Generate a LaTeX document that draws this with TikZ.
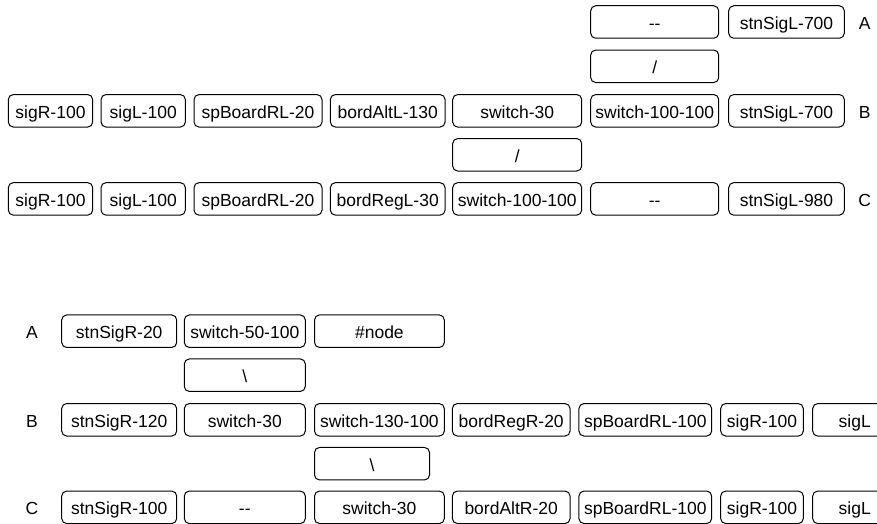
\documentclass[tikz,border=0pt]{standalone}
\usepackage{fontspec}
\setmainfont{Liberation Sans}
\begin{document}
\begin{tikzpicture}[x=1pt,y=-1pt,
  box/.style={draw=black, line width=1pt, rounded corners=5pt, minimum height=32.5pt,
    inner sep=0pt, text height=14.6pt, text depth=0pt, font=\fontsize{17.5}{20}\selectfont},
  lbl/.style={inner sep=0pt, text height=14.6pt, text depth=0pt, font=\fontsize{17.5}{20}\selectfont}]
\useasboundingbox (0,0) rectangle (877,524);
\clip (0,0) rectangle (877,524);
% ---------- top section ----------
% row A
\node[box, minimum width=128pt] (tA6) at (654.7,22) {-{}-};
\node[box, minimum width=115.6pt] (tA7) at (786.5,22) {stnSigL-700};
\node[lbl] (tAl) at (864.7,22) {A};
% slash row 1
\node[box, minimum width=128pt] (tS1) at (654.7,66.3) {/};
% row B
\node[box, minimum width=84.4pt] (tB1) at (50.5,110.8) {sigR-100};
\node[box, minimum width=84.3pt] (tB2) at (143.2,110.8) {sigL-100};
\node[box, minimum width=128pt] (tB3) at (258,110.8) {spBoardRL-20};
\node[box, minimum width=114.7pt] (tB4) at (387.7,110.8) {bordAltL-130};
\node[box, minimum width=129pt] (tB5) at (517.2,110.8) {switch-30};
\node[box, minimum width=128pt] (tB6) at (654.7,110.8) {switch-100-100};
\node[box, minimum width=115.6pt] (tB7) at (786.5,110.8) {stnSigL-700};
\node[lbl] (tBl) at (864.7,110.8) {B};
% slash row 2
\node[box, minimum width=129pt] (tS2) at (517.2,154.8) {/};
% row C
\node[box, minimum width=84.4pt] (tC1) at (50.5,198.9) {sigR-100};
\node[box, minimum width=84.3pt] (tC2) at (143.2,198.9) {sigL-100};
\node[box, minimum width=128pt] (tC3) at (258,198.9) {spBoardRL-20};
\node[box, minimum width=114.7pt] (tC4) at (387.7,198.9) {bordRegL-30};
\node[box, minimum width=129pt] (tC5) at (517.2,198.9) {switch-100-100};
\node[box, minimum width=128pt] (tC6) at (654.7,198.9) {-{}-};
\node[box, minimum width=115.6pt] (tC7) at (786.5,198.9) {stnSigL-980};
\node[lbl] (tCl) at (864.7,198.9) {C};
% ---------- bottom section ----------
% row A
\node[lbl] (bAl) at (32,331.2) {A};
\node[box, minimum width=115pt] (bA1) at (119.2,331.2) {stnSigR-20};
\node[box, minimum width=121pt] (bA2) at (244.8,331.2) {switch-50-100};
\node[box, minimum width=129.8pt] (bA3) at (379.4,331.2) {\#node};
% backslash row 1
\node[box, minimum width=121pt] (bS1) at (244.8,375.2) {\textbackslash};
% row B
\node[lbl] (bBl) at (32,419.8) {B};
\node[box, minimum width=115pt] (bB1) at (119.2,419.8) {stnSigR-120};
\node[box, minimum width=121pt] (bB2) at (244.8,419.8) {switch-30};
\node[box, minimum width=129.8pt] (bB3) at (379.4,419.8) {switch-130-100};
\node[box, minimum width=117.7pt] (bB4) at (511.2,419.8) {bordRegR-20};
\node[box, minimum width=132.7pt] (bB5) at (645.3,419.8) {spBoardRL-100};
\node[box, minimum width=82.6pt] (bB6) at (762,419.8) {sigR-100};
\node[box, minimum width=84pt] (bB7) at (854.7,419.8) {sigL};
% backslash row 2
\node[box, minimum width=115pt] (bS2) at (372,463.7) {\textbackslash};
% row C
\node[lbl] (bCl) at (32,507.3) {C};
\node[box, minimum width=115pt] (bC1) at (119.2,507.3) {stnSigR-100};
\node[box, minimum width=121pt] (bC2) at (244.8,507.3) {-{}-};
\node[box, minimum width=129.8pt] (bC3) at (379.4,507.3) {switch-30};
\node[box, minimum width=117.7pt] (bC4) at (511.2,507.3) {bordAltR-20};
\node[box, minimum width=132.7pt] (bC5) at (645.3,507.3) {spBoardRL-100};
\node[box, minimum width=82.6pt] (bC6) at (762,507.3) {sigR-100};
\node[box, minimum width=84pt] (bC7) at (854.7,507.3) {sigL};
\end{tikzpicture}
\end{document}
